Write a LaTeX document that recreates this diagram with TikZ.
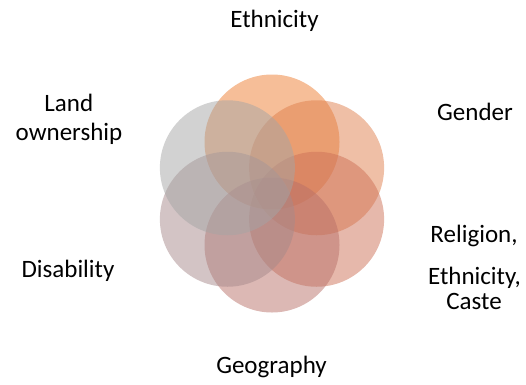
\documentclass[tikz,border=0pt]{standalone}
\usepackage{fontspec}
\setmainfont{Carlito}
\usetikzlibrary{calc}
\definecolor{cA}{RGB}{237,125,49}
\definecolor{cB}{RGB}{223,127,77}
\definecolor{cC}{RGB}{205,113,87}
\definecolor{cD}{RGB}{185,113,105}
\definecolor{cE}{RGB}{167,137,139}
\definecolor{cF}{RGB}{165,165,165}
\begin{document}
\begin{tikzpicture}[x=1pt,y=1pt,
  petal/.style={circle,minimum size=135pt,inner sep=0pt,fill opacity=0.5},
  lab/.style={font=\fontsize{25}{28.5}\selectfont,anchor=base,inner sep=0pt,text=black}]
\useasboundingbox (0,0) rectangle (526,384);
\coordinate (c) at (272,190.5);
\node[petal,fill=cA] (p1) at ($(c)+(90:51.5)$) {};
\node[petal,fill=cB] (p2) at ($(c)+(30:51.5)$) {};
\node[petal,fill=cC] (p3) at ($(c)+(-30:51.5)$) {};
\node[petal,fill=cD] (p4) at ($(c)+(-90:51.5)$) {};
\node[petal,fill=cE] (p5) at ($(c)+(-150:51.5)$) {};
\node[petal,fill=cF] (p6) at ($(c)+(150:51.5)$) {};
\node[lab] (t1) at (274.5,356) {Ethnicity};
\node[lab] (t2) at (475,264) {Gender};
\node[lab] (t3a) at (474,142) {Religion,};
\node[lab] (t3b) at (474.5,100) {Ethnicity,};
\node[lab] (t3c) at (474,75) {Caste};
\node[lab] (t4) at (271.5,11) {Geography};
\node[lab] (t5) at (68,107) {Disability};
\node[lab] (t6a) at (68.8,272.3) {Land};
\node[lab] (t6b) at (69,244) {ownership};
\end{tikzpicture}
\end{document}
